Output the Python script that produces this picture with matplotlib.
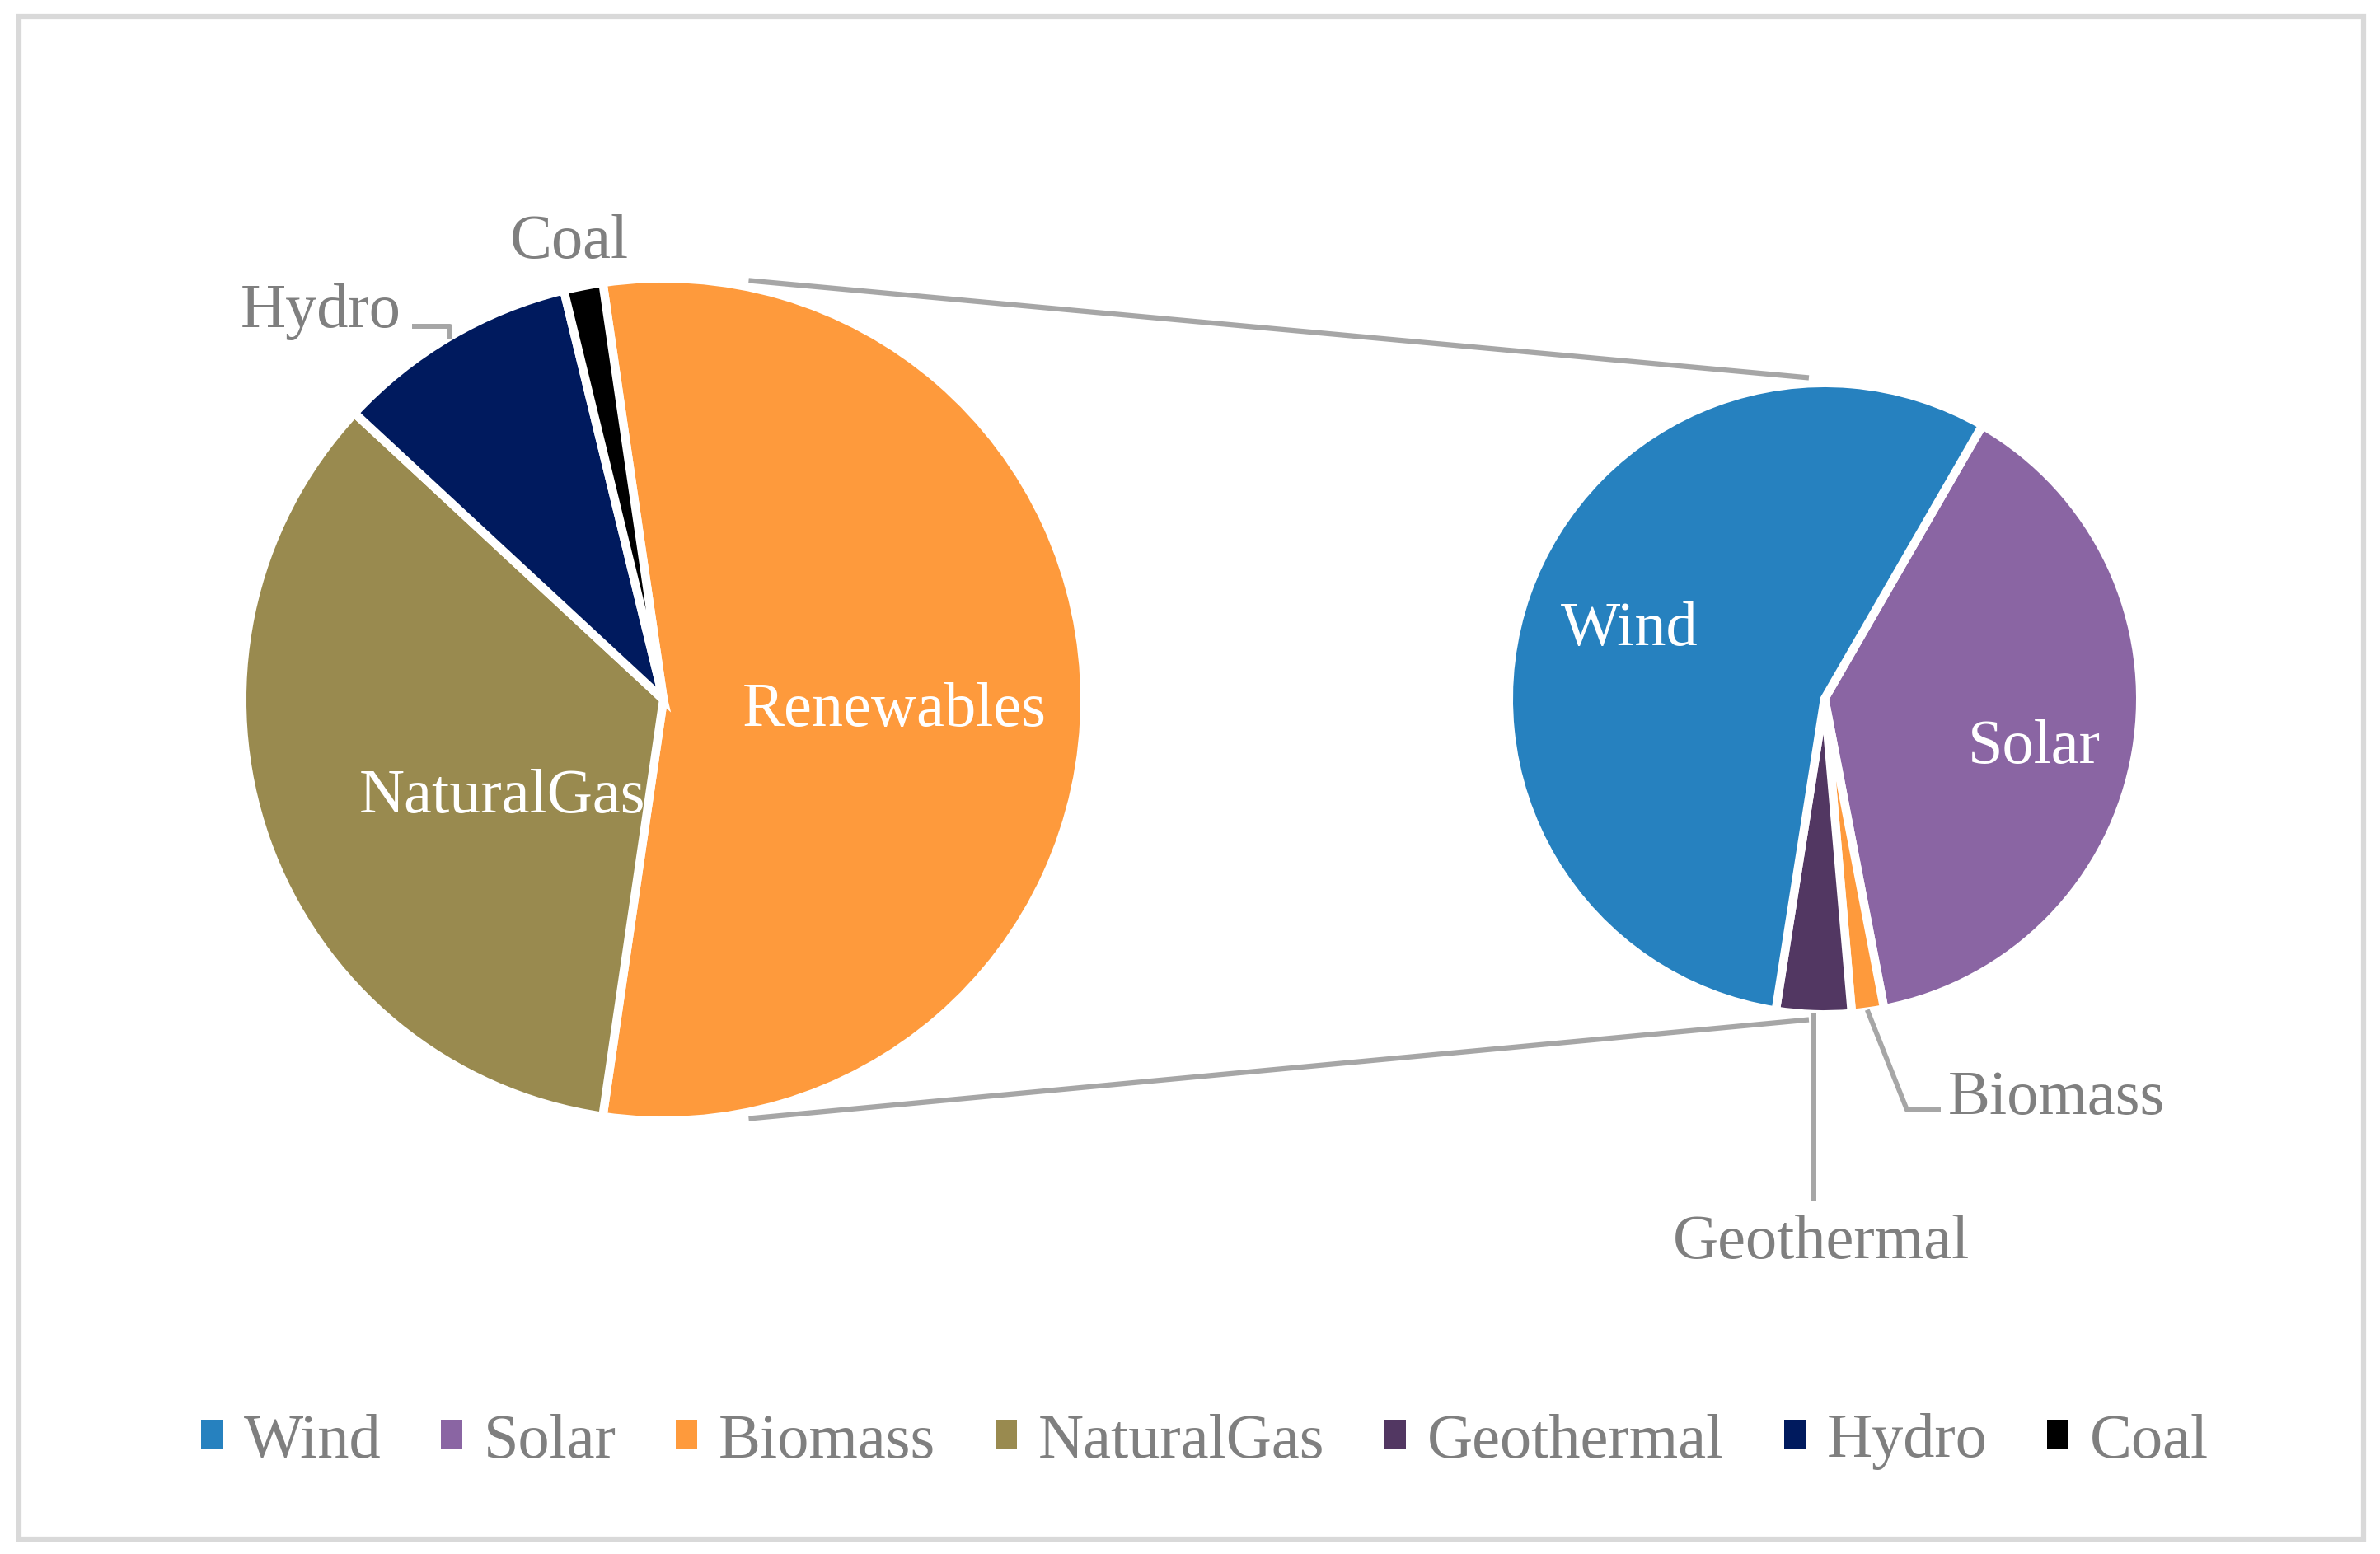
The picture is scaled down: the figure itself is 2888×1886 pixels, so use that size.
import numpy as np
import matplotlib.pyplot as plt
from matplotlib.patches import Patch, Rectangle

plt.rcParams['font.family'] = ['Liberation Serif', 'DejaVu Serif']

# main pie (share of total, %)
main_labels = ['Renewables', 'NaturalGas', 'Hydro', 'Coal']
main_values = [54.6, 34.6, 9.3, 1.5]
main_colors = ['#FE9A3C', '#998A4F', '#001A5E', '#000000']

# split of the renewables slice
sub_labels = ['Solar', 'Biomass', 'Geothermal', 'Wind']
sub_values = [21.1, 0.9, 2.1, 30.5]
sub_colors = ['#8A65A3', '#FE9A3C', '#523762', '#2681BF']

legend_labels = ['Wind', 'Solar', 'Biomass', 'NaturalGas', 'Geothermal', 'Hydro', 'Coal']
legend_colors = ['#2681BF', '#8A65A3', '#FE9A3C', '#998A4F', '#523762', '#001A5E', '#000000']

W, H = 2888, 1886
FS = 55
GREY_TXT = '#7F7F7F'
GREY_LN = '#A6A6A6'
EDGE = 7.5          # white gap between slices (pt)
half = EDGE * 100 / 72 / 2


def Y(y):
    # picture rows -> data y (y up)
    return H - y


def rim(cx, cy, r, ang):
    a = np.deg2rad(ang)
    return cx + r * np.cos(a), cy + r * np.sin(a)


fig = plt.figure(figsize=(W / 100, H / 100), dpi=100)
ax = fig.add_axes([0, 0, 1, 1])

# left pie
lcx, lcy, lr = 805, Y(849), 506
wl, _ = ax.pie(main_values, colors=main_colors, counterclock=False,
               startangle=180 * main_values[0] / sum(main_values),
               center=(lcx, lcy), radius=lr + half, frame=True,
               wedgeprops=dict(edgecolor='white', linewidth=EDGE))

# right pie
rcx, rcy, rr = 2214, Y(848), 378
wr, _ = ax.pie(sub_values, colors=sub_colors, counterclock=False,
               startangle=60, center=(rcx, rcy), radius=rr + half, frame=True,
               wedgeprops=dict(edgecolor='white', linewidth=EDGE))

# connector lines between the two pies
for s in (1, -1):
    x0, y0 = rim(lcx, lcy, lr + 13, s * 78.5)
    x1, y1 = rim(rcx, rcy, rr + 12, s * 92.8)
    ax.plot([x0, x1], [y0, y1], color=GREY_LN, lw=4.5, solid_capstyle='butt')

# labels inside slices
ax.text(1085, Y(881), 'Renewables', color='white', fontsize=FS, ha='center', va='baseline')
ax.text(609, Y(986), 'NaturalGas', color='white', fontsize=FS, ha='center', va='baseline')
ax.text(1977, Y(783), 'Wind', color='white', fontsize=FS, ha='center', va='baseline')
ax.text(2468, Y(926), 'Solar', color='white', fontsize=FS, ha='center', va='baseline')

# outside labels with leader lines
ax.text(691, Y(313), 'Coal', color=GREY_TXT, fontsize=FS, ha='center', va='baseline')
ax.text(487, Y(397), 'Hydro', color=GREY_TXT, fontsize=FS, ha='right', va='baseline')
ax.text(2364, Y(1352), 'Biomass', color=GREY_TXT, fontsize=FS, ha='left', va='baseline')
ax.text(2210, Y(1527), 'Geothermal', color=GREY_TXT, fontsize=FS, ha='center', va='baseline')


def mid(w):
    return (w.theta1 + w.theta2) / 2


hx, hy = rim(lcx, lcy, lr + 5, mid(wl[2]))
ax.plot([hx, hx, 503], [hy, Y(396), Y(396)], color=GREY_LN, lw=4.3)
bx, by = rim(rcx, rcy, rr + 6, mid(wr[1]))
ax.plot([bx, 2314, 2352], [by, Y(1347), Y(1347)], color=GREY_LN, lw=4.3)
gx, gy = rim(rcx, rcy, rr + 6, mid(wr[2]))
ax.plot([gx, gx], [gy, Y(1455)], color=GREY_LN, lw=4.3)

# legend
handles = [Patch(facecolor=c, edgecolor='none') for c in legend_colors]
ax.legend(handles, legend_labels, loc='center', ncol=7, frameon=False,
          bbox_to_anchor=(1462, Y(1750)), bbox_transform=ax.transData,
          fontsize=FS, labelcolor=GREY_TXT, handlelength=0.34, handleheight=0.34,
          handletextpad=0.34, columnspacing=0.95)

# chart border
ax.add_patch(Rectangle((23, Y(1868)), 2868 - 23, 1868 - 20, fill=False,
                       edgecolor='#D9D9D9', lw=4.5))

ax.set_xlim(0, W)
ax.set_ylim(0, H)
ax.set_aspect('equal')
ax.axis('off')

fig.savefig('out.png', dpi=100, facecolor='white')
